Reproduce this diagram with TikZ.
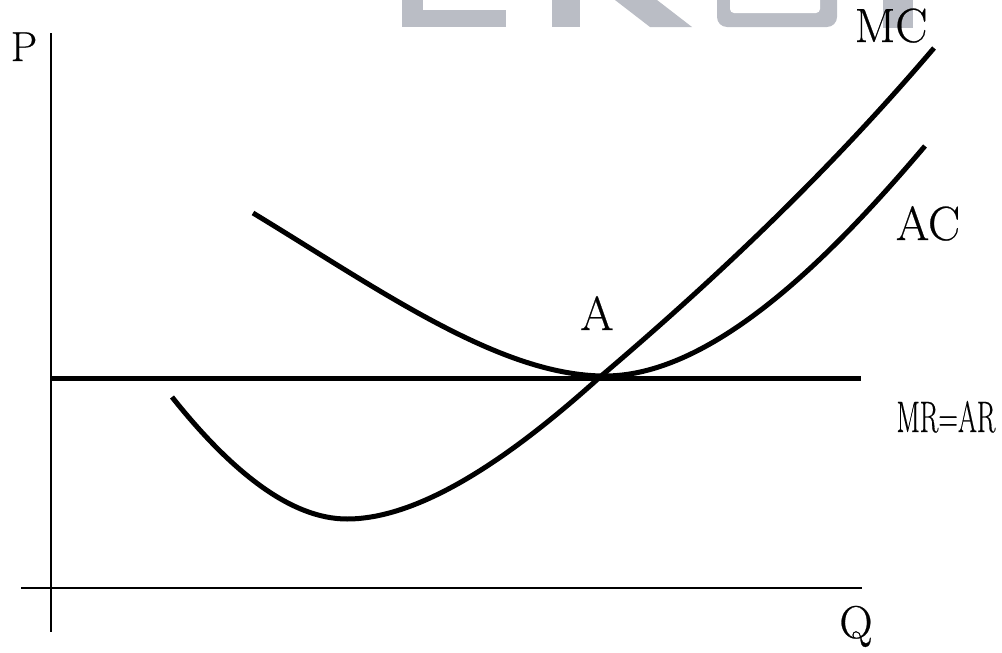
\documentclass[tikz,border=0pt]{standalone}
\usepackage{fontspec}
\newfontfamily\lbf{Latin Modern Roman}[FakeBold=0.5]
\begin{document}
\definecolor{wm}{RGB}{186,189,197}
\begin{tikzpicture}[x=1pt,y=-1pt,
  axis/.style={line width=2.4pt},
  curve/.style={line width=5pt},
  lbl/.style={inner sep=0pt, anchor=base}]
\useasboundingbox (0,0) rectangle (1002,653);
% watermark
\fill[wm] (402,0) rectangle (423,27);
\fill[wm] (402,10) rectangle (506,27);
\fill[wm] (552,0) rectangle (580,27);
\fill[wm] (615,0) -- (657,0) -- (692,27) -- (650,27) -- cycle;
\fill[wm, rounded corners=10pt] (717,-20) -- (717,27) -- (837,27) -- (837,-20) -- cycle;
\fill[white, rounded corners=4pt] (730,-20) -- (730,13) -- (820,13) -- (820,-20) -- cycle;
\fill[wm] (883,0) rectangle (913,28);
% axes
\coordinate (ytop) at (51,33);
\coordinate (ybot) at (51,632);
\coordinate (xl) at (21,588);
\coordinate (xr) at (862,588);
\draw[axis] (ytop) -- (ybot);
\draw[axis] (xl) -- (xr);
% MR = AR
\coordinate (mrl) at (51,378);
\coordinate (mrr) at (861,378);
\draw[curve] (mrl) -- (mrr);
% MC
\coordinate (mc0) at (172,397);
\coordinate (mcmin) at (347,519);
\coordinate (Apt) at (600,377);
\coordinate (mc1) at (934,48);
\draw[curve] (mc0) .. controls (230,470) and (290,519) .. (mcmin)
  .. controls (430,519) and (530,440) .. (Apt)
  .. controls (720,275) and (830,170) .. (mc1);
% AC
\coordinate (ac0) at (253,213);
\coordinate (acmin) at (605,376);
\coordinate (ac1) at (925,146);
\draw[curve] (ac0) .. controls (380,290) and (500,376) .. (acmin)
  .. controls (720,376) and (845,240) .. (ac1);
% labels
\node[lbl, font=\lbf\fontsize{42}{42}\selectfont] (P) at (24,61) {P};
\node[lbl, font=\lbf\fontsize{48}{48}\selectfont] (MC) at (891,42) {MC};
\node[lbl, font=\lbf\fontsize{48}{48}\selectfont] (AC) at (928,240) {AC};
\node[lbl, font=\lbf\fontsize{48}{48}\selectfont] (A) at (597,330) {A};
\node[lbl, font=\lbf\fontsize{44}{44}\selectfont, xscale=0.62] (MRAR) at (946,432) {MR=AR};
\node[lbl, font=\lbf\fontsize{46}{46}\selectfont] (Q) at (856,638) {Q};
\end{tikzpicture}
\end{document}
